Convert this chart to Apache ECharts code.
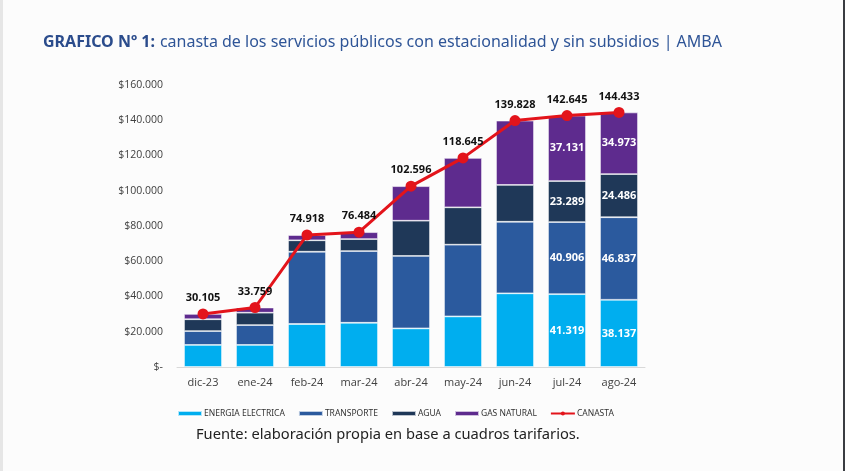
<!DOCTYPE html>
<html>
<head>
<meta charset="utf-8">
<script src="https://cdn.jsdelivr.net/npm/echarts@6/dist/echarts.min.js"></script>
<style>
  html, body { margin: 0; padding: 0; background: #fcfcfc; }
  #chart { width: 845px; height: 471px; }
  .edge-l { position: absolute; left: 0; top: 0; width: 3px; height: 471px; background: #e6e6e6; }
  .edge-r { position: absolute; left: 843px; top: 0; width: 2px; height: 471px; background: #3a3d42; }
</style>
</head>
<body>
<div id="chart"></div>
<div class="edge-l"></div>
<div class="edge-r"></div>
<script>
// datos (pesos)
const meses = ['dic-23', 'ene-24', 'feb-24', 'mar-24', 'abr-24', 'may-24', 'jun-24', 'jul-24', 'ago-24'];
const energia = [12500, 12500, 24400, 25100, 21900, 28700, 41800, 41319, 38137];
const transporte = [7900, 11300, 41000, 40700, 41100, 40700, 40600, 40906, 46837];
const agua = [6700, 7000, 6500, 6800, 20000, 21200, 20900, 23289, 24486];
const gas = [3000, 2950, 3000, 3900, 19600, 28000, 36500, 37131, 34973];
const canasta = [30105, 33759, 74918, 76484, 102596, 118645, 139828, 142645, 144433];
// solo estos meses llevan etiqueta dentro de las barras
const mesesConEtiqueta = ['jul-24', 'ago-24'];

const fmt = (v) => String(Math.round(v)).replace(/\B(?=(\d{3})+(?!\d))/g, '.');

const barra = (name, data, color) => ({
  name,
  type: 'bar',
  stack: 'total',
  barWidth: '73%',
  data,
  itemStyle: { color, borderColor: 'rgba(255,255,255,0.7)', borderWidth: 0.8 },
  label: {
    show: true,
    position: 'inside',
    color: '#fff',
    fontWeight: 'bold',
    fontSize: 11,
    fontFamily: 'Open Sans',
    formatter: (p) => mesesConEtiqueta.includes(p.name) ? fmt(p.value) : ''
  },
  emphasis: { disabled: true }
});

const chart = echarts.init(document.getElementById('chart'));
chart.setOption({
  backgroundColor: '#fcfcfc',
  animation: false,
  title: {
    left: 38,
    top: 28,
    text: '{b|GRAFICO Nº 1:} {n|canasta de los servicios públicos con estacionalidad y sin subsidios | AMBA}',
    textStyle: {
      rich: {
        b: { fontFamily: 'Noto Sans', fontWeight: 'bold', fontSize: 16, color: '#2B4C8C' },
        n: { fontFamily: 'Noto Sans', fontWeight: 'normal', fontSize: 16, color: '#2F5597' }
      }
    }
  },
  grid: { left: 177, right: 200, top: 85, bottom: 104 },
  legend: {
    left: 172,
    top: 404,
    itemWidth: 24,
    itemHeight: 5,
    itemGap: 13,
    textStyle: { fontFamily: 'Noto Sans', fontSize: 8.5, color: '#333', padding: [0, 0, 0, -3] },
    data: [
      { name: 'ENERGIA ELECTRICA', icon: 'rect' },
      { name: 'TRANSPORTE', icon: 'rect' },
      { name: 'AGUA', icon: 'rect' },
      { name: 'GAS NATURAL', icon: 'rect' },
      { name: 'CANASTA' }
    ]
  },
  graphic: [{
    type: 'text',
    left: 196,
    top: 427,
    style: {
      text: 'Fuente: elaboración propia en base a cuadros tarifarios.',
      font: '14.7px "Noto Sans"',
      fill: '#222'
    }
  }],
  xAxis: {
    type: 'category',
    data: meses,
    axisLine: { lineStyle: { color: '#d9d9d9' } },
    axisTick: { show: false },
    axisLabel: { color: '#404040', fontSize: 11, fontFamily: 'Open Sans', margin: 10 }
  },
  yAxis: {
    type: 'value',
    min: 0,
    max: 160000,
    interval: 20000,
    axisLine: { show: false },
    axisTick: { show: false },
    splitLine: { show: false },
    axisLabel: {
      color: '#404040',
      fontSize: 10.5,
      fontFamily: 'Open Sans',
      margin: 14,
      formatter: (v) => v === 0 ? '$-' : '$' + fmt(v)
    }
  },
  series: [
    barra('ENERGIA ELECTRICA', energia, '#00AEEF'),
    barra('TRANSPORTE', transporte, '#2B5A9E'),
    barra('AGUA', agua, '#1F3858'),
    barra('GAS NATURAL', gas, '#5E2B8E'),
    {
      name: 'CANASTA',
      type: 'line',
      data: canasta,
      symbol: 'circle',
      symbolSize: 11,
      lineStyle: { color: '#E3141B', width: 3 },
      itemStyle: { color: '#E3141B' },
      label: {
        show: true,
        position: 'top',
        distance: 5,
        color: '#111',
        fontWeight: 'bold',
        fontSize: 11,
        fontFamily: 'Open Sans',
        formatter: (p) => fmt(p.value)
      },
      z: 5,
      emphasis: { disabled: true }
    }
  ]
});
</script>
</body>
</html>
